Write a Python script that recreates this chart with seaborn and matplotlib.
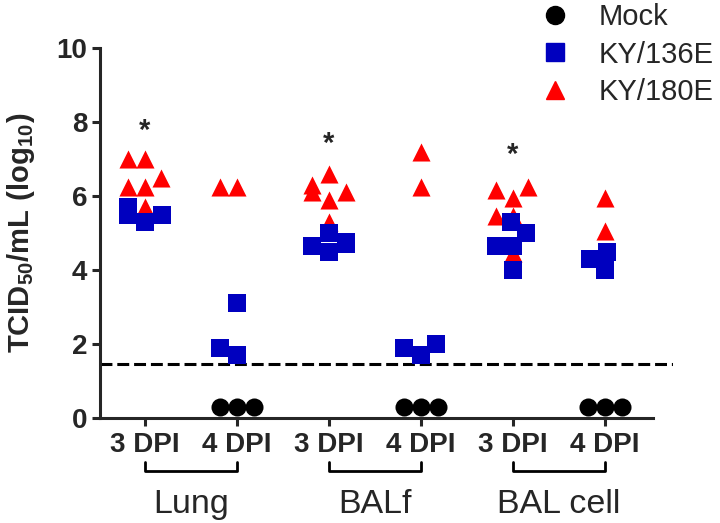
import matplotlib
matplotlib.use("Agg")
import matplotlib.pyplot as plt
from matplotlib.lines import Line2D
import seaborn as sns
from seaborn import categorical
import pandas as pd

# conditions along the x axis
categories = ["Lung 3 DPI", "Lung 4 DPI", "BALf 3 DPI", "BALf 4 DPI",
              "BAL cell 3 DPI", "BAL cell 4 DPI"]
tick_labels = ["3 DPI", "4 DPI"] * 3
groups = ["Lung", "BALf", "BAL cell"]

# TCID50/mL (log10), one list per condition
mock_vals = [[], [0.3, 0.3, 0.3], [], [0.3, 0.3, 0.3], [], [0.3, 0.3, 0.3]]
ky136_vals = [[5.5, 5.3, 5.5, 5.7],
              [3.1, 1.9, 1.7],
              [5.0, 4.75, 4.5, 4.65, 4.7],
              [1.9, 1.7, 2.0],
              [5.3, 5.0, 4.65, 4.65, 4.0],
              [4.3, 4.0, 4.5]]
ky180_vals = [[7.0, 7.0, 6.5, 6.25, 6.25, 5.7],
              [6.25, 6.25],
              [6.3, 6.1, 5.9, 6.6, 6.1, 5.3],
              [7.2, 6.25],
              [6.25, 5.95, 6.15, 5.45, 5.45, 4.45],
              [5.95, 5.05]]
detection_limit = 1.45
star_idx = [0, 2, 4]
star_y = [7.75, 7.4, 7.1]


def long_form(vals):
    rows = [(c, v) for c, vs in zip(categories, vals) for v in vs]
    return pd.DataFrame(rows, columns=["cond", "titer"])


df_mock = long_form(mock_vals)
df_136 = long_form(ky136_vals)
df_180 = long_form(ky180_vals)


# swarmplot has no width option; narrow the swarm so points squeeze together
# and overlap like the column scatter of the original
class NarrowBeeswarm(categorical.Beeswarm):
    def __init__(self, width=0.8, **kw):
        super().__init__(width=0.38, **kw)


categorical.Beeswarm = NarrowBeeswarm

sns.set_style("ticks")
plt.rcParams["font.family"] = ["Liberation Sans", "DejaVu Sans"]
plt.rcParams["mathtext.fontset"] = "custom"
plt.rcParams["mathtext.rm"] = "Liberation Sans"
plt.rcParams["mathtext.bf"] = "Liberation Sans:bold"

red = "#ff0000"
blue = "#0000bf"

fig = plt.figure(figsize=(7.2, 5.23), dpi=100)
ax = fig.add_axes([100 / 720, 105 / 523, 573 / 720, 370 / 523])

swarm_kw = dict(x="cond", y="titer", order=categories, ax=ax, size=13,
                linewidth=0, warn_thresh=1)
sns.swarmplot(data=df_180, color=red, marker="^", **swarm_kw)
sns.swarmplot(data=df_136, color=blue, marker="s", **swarm_kw)
sns.swarmplot(data=df_mock, color="black", marker="o", **swarm_kw)

ax.axhline(detection_limit, color="black", lw=2.2, ls=(0, (3.9, 1.6)),
           zorder=0)

for i, y in zip(star_idx, star_y):
    ax.text(i, y, "*", ha="center", va="center", fontsize=21,
            fontweight="bold")

ax.set_xlim(-0.489, 5.739)
ax.set_ylim(0, 10)
ax.set_yticks(range(0, 11, 2))
ax.set_xticks(range(len(categories)))
ax.set_xticklabels(tick_labels, fontsize=20, fontweight="bold")
ax.tick_params(axis="y", labelsize=20, width=2.2, length=6, pad=3)
ax.tick_params(axis="x", width=2.2, length=6, pad=4)
for lab in ax.get_yticklabels():
    lab.set_fontweight("bold")
ax.set_xlabel("")
ax.set_ylabel(r"$\mathbf{TCID_{50}/mL\ (log_{10})}$", fontsize=21,
              labelpad=14)
for s in ["top", "right"]:
    ax.spines[s].set_visible(False)
for s in ["left", "bottom"]:
    ax.spines[s].set_linewidth(2.2)
ax.spines["bottom"].set_bounds(-0.489, 5.52)

# group brackets under the tick labels
tr = ax.get_xaxis_transform()
for g, name in enumerate(groups):
    a, b = 2 * g, 2 * g + 1
    ax.plot([a, a, b, b], [-0.119, -0.143, -0.143, -0.119], color="black",
            lw=2.0, transform=tr, clip_on=False)
    ax.text((a + b) / 2, -0.235, name, transform=tr, ha="center",
            va="center", fontsize=24.5)

handles = [
    Line2D([], [], marker="o", ls="none", color="black", markersize=13),
    Line2D([], [], marker="s", ls="none", color=blue, markersize=13),
    Line2D([], [], marker="^", ls="none", color=red, markersize=13),
]
fig.legend(handles, ["Mock", "KY/136E", "KY/180E"], loc="upper left",
           bbox_to_anchor=(540 / 720, 1 - 3 / 523), frameon=False,
           fontsize=21, handlelength=1.0, handletextpad=1.0,
           labelspacing=0.33, borderpad=0, borderaxespad=0)

fig.savefig("out.png", dpi=100)
